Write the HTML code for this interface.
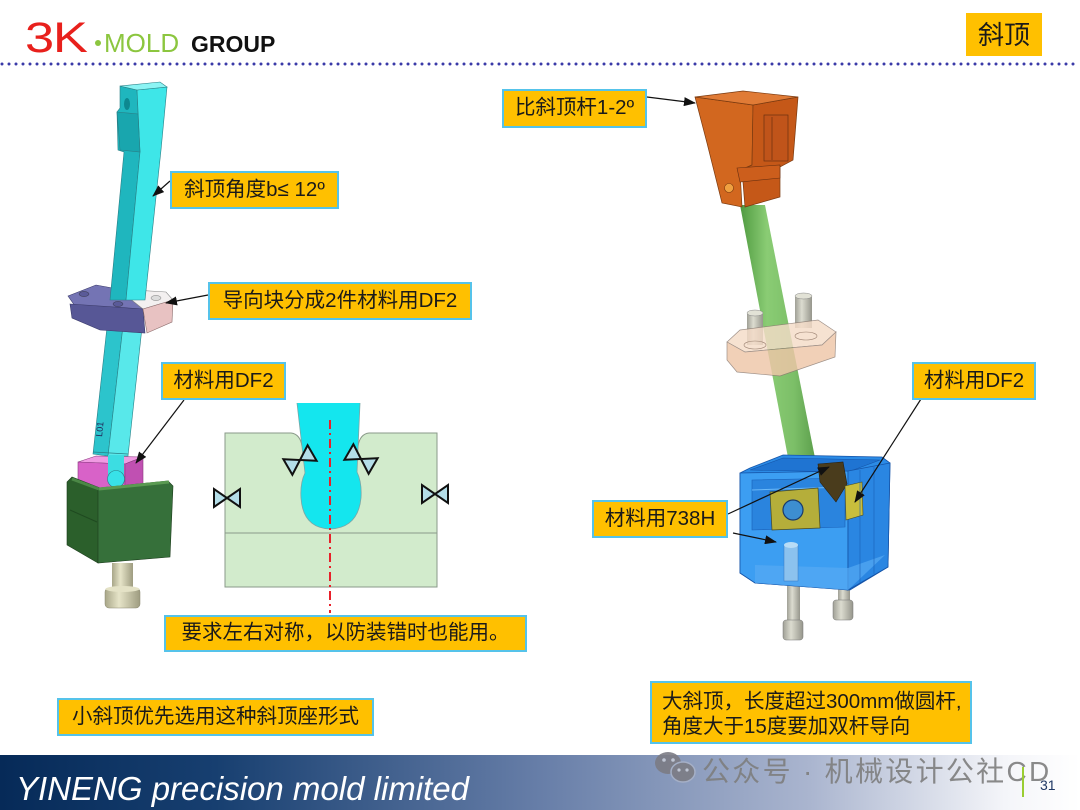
<!DOCTYPE html>
<html>
<head>
<meta charset="utf-8">
<style>
html,body{margin:0;padding:0;background:#fff;}
body{width:1080px;height:810px;position:relative;overflow:hidden;font-family:"Liberation Sans","Noto Sans CJK SC",sans-serif;}
svg{position:absolute;left:0;top:0;}
.lbl{position:absolute;background:#FFC000;border:2px solid #55c3ea;box-sizing:border-box;font-family:"Liberation Sans","Noto Sans CJK SC",sans-serif;font-size:20.5px;color:#1a1a1a;display:flex;align-items:center;justify-content:center;white-space:nowrap;line-height:1;}
</style>
</head>
<body>
<svg width="1080" height="810" viewBox="0 0 1080 810" xmlns="http://www.w3.org/2000/svg">
<defs>
  <marker id="ah" markerWidth="12" markerHeight="9" refX="11" refY="4.5" orient="auto" markerUnits="userSpaceOnUse">
    <path d="M0,0 L12,4.5 L0,9 Z" fill="#111"/>
  </marker>
  <linearGradient id="foot" x1="0" y1="0" x2="1" y2="0">
    <stop offset="0" stop-color="#062a58"/>
    <stop offset="0.2" stop-color="#173f70"/>
    <stop offset="0.5" stop-color="#677ea8"/>
    <stop offset="0.75" stop-color="#aab5cf"/>
    <stop offset="0.93" stop-color="#f4f5f9"/>
    <stop offset="1" stop-color="#ffffff"/>
  </linearGradient>
  <linearGradient id="grod" x1="0" y1="0" x2="1" y2="0">
    <stop offset="0" stop-color="#4f9a40"/>
    <stop offset="0.35" stop-color="#8acc74"/>
    <stop offset="0.7" stop-color="#7cbf68"/>
    <stop offset="1" stop-color="#5a9d4a"/>
  </linearGradient>
  <linearGradient id="scr" x1="0" y1="0" x2="1" y2="0">
    <stop offset="0" stop-color="#a8a688"/>
    <stop offset="0.4" stop-color="#e6e4c8"/>
    <stop offset="1" stop-color="#9e9c80"/>
  </linearGradient>
  <linearGradient id="scr2" x1="0" y1="0" x2="1" y2="0">
    <stop offset="0" stop-color="#a0a096"/>
    <stop offset="0.4" stop-color="#dcdcd0"/>
    <stop offset="1" stop-color="#96968c"/>
  </linearGradient>
</defs>

<!-- Header logo -->
<text x="25" y="52" font-family="Liberation Sans, sans-serif" font-size="43" fill="#e8201c" transform="translate(25 0) scale(1.22 1) translate(-25 0)" style="letter-spacing:-1px">3K</text>
<circle cx="98" cy="43" r="3" fill="#8cc63f"/>
<text x="104" y="52" font-family="Liberation Sans, sans-serif" font-size="26" fill="#8cc63f">MOLD</text>
<text x="191" y="52" font-family="Liberation Sans, sans-serif" font-size="23" font-weight="bold" fill="#111">GROUP</text>
<line x1="2" y1="64" x2="1080" y2="64" stroke="#3a3aa8" stroke-width="3" stroke-dasharray="0 7" stroke-linecap="round"/>

<!-- ===== LEFT PART ===== -->
<polygon points="78,462 96,456 143,457 125,464" fill="#f09ae2" stroke="#8a3a80" stroke-width="0.6"/>
<polygon points="78,462 125,464 125,522 78,520" fill="#d862c8" stroke="#8a3a80" stroke-width="0.6"/>
<polygon points="125,464 143,457 143,500 125,506" fill="#c050b2" stroke="#8a3a80" stroke-width="0.6"/>
<polygon points="110,300 126,300 108,456 93,454" fill="#2cc4cc" stroke="#2a7f86" stroke-width="0.6"/>
<polygon points="126,300 145,300 128,456 108,456" fill="#58e8ea" stroke="#2a7f86" stroke-width="0.6"/>
<line x1="93" y1="452" x2="128" y2="454" stroke="#2a7f86" stroke-width="0.8"/>
<rect x="108" y="455" width="16" height="22" fill="#3cdde2"/>
<circle cx="116" cy="479" r="8.5" fill="#38e2e8" stroke="#2a7f86" stroke-width="0.6"/>
<text x="0" y="0" font-family="Liberation Sans, sans-serif" font-size="9" fill="#225" transform="translate(102 437) rotate(-84)">L01</text>
<polygon points="67,482 72,477 100,488 98,563 67,545" fill="#2b5f2b" stroke="#1d3d1d" stroke-width="0.6"/>
<polygon points="98,488 168,481 173,486 170,557 98,563" fill="#36703a" stroke="#1d3d1d" stroke-width="0.6"/>
<line x1="99" y1="489" x2="169" y2="482" stroke="#5a9a52" stroke-width="3"/>
<line x1="72" y1="479" x2="99" y2="489" stroke="#4b8846" stroke-width="3"/>
<line x1="70" y1="510" x2="97" y2="522" stroke="#1f4a20" stroke-width="1"/>
<rect x="112" y="563" width="21" height="28" fill="url(#scr)"/>
<rect x="105" y="588" width="35" height="20" rx="4" fill="url(#scr)" stroke="#8a8870" stroke-width="0.5"/>
<ellipse cx="122.5" cy="589" rx="17" ry="3" fill="#e4e2c6"/>
<polygon points="68,296 96,285 118,289 143,309 75,306" fill="#7474b4" stroke="#3a3a6a" stroke-width="0.6"/>
<polygon points="118,289 166,292 173,300 143,309" fill="#f3f0f0" stroke="#8a8a8a" stroke-width="0.6"/>
<polygon points="70,304 143,309 145,333 100,330 72,318" fill="#575796" stroke="#3a3a6a" stroke-width="0.6"/>
<polygon points="143,309 173,300 172,322 147,333" fill="#e8c2c2" stroke="#8a6a6a" stroke-width="0.6"/>
<ellipse cx="84" cy="294" rx="5" ry="2.5" fill="#5a5a98" stroke="#334" stroke-width="0.5"/>
<ellipse cx="118" cy="304" rx="5" ry="2.5" fill="#5a5a98" stroke="#334" stroke-width="0.5"/>
<ellipse cx="156" cy="298" rx="5" ry="2.5" fill="#ddd" stroke="#777" stroke-width="0.5"/>
<polygon points="120,86 137,90 140,152 126,300 110,300 124,152 118,150 117,112 120,108" fill="#1fb6be" stroke="#2a7f86" stroke-width="0.6"/>
<polygon points="137,90 167,87 161,150 145,300 126,300 140,152" fill="#3ee6e8" stroke="#2a7f86" stroke-width="0.6"/>
<polygon points="120,86 160,82 167,87 137,90" fill="#8cf4f4" stroke="#2a7f86" stroke-width="0.6"/>
<polygon points="117,112 138,114 140,152 120,150" fill="#19a6ae" stroke="#2a7f86" stroke-width="0.6"/>
<ellipse cx="127" cy="104" rx="3" ry="6" fill="#0d8890"/>

<!-- ===== MIDDLE SCHEMATIC ===== -->
<path d="M225,433 H291 Q300,434 302,446 L358,446 Q360,434 369,433 H437 V587 H225 Z" fill="#d2ebcc" stroke="#8a9a8a" stroke-width="1"/>
<line x1="225" y1="533" x2="437" y2="533" stroke="#8a9a8a" stroke-width="1"/>
<path d="M297,403 H360 L357,472 Q362,482 361,498 Q358,528 330,529 Q303,528 301,498 Q300,483 305,473 Z" fill="#14e6ee"/>
<path d="M297,403 L305,473 Q300,483 301,498 Q303,528 330,529 Q358,528 361,498 Q362,482 357,472 L360,403" fill="none" stroke="#7aa6a6" stroke-width="0.8"/>
<line x1="330" y1="420" x2="330" y2="613" stroke="#e8202a" stroke-width="2" stroke-dasharray="9 4 2 4"/>
<g fill="#b4dee8" stroke="#111" stroke-width="2" stroke-linejoin="miter">
  <g transform="translate(227 498)"><polygon points="-13,-9 -13,9 0,0"/><polygon points="13,-9 13,9 0,0"/></g>
  <g transform="translate(435 494)"><polygon points="-13,-9 -13,9 0,0"/><polygon points="13,-9 13,9 0,0"/></g>
  <g transform="translate(300 460) rotate(-30)"><polygon points="-14,-9 -14,9 0,0"/><polygon points="14,-9 14,9 0,0"/></g>
  <g transform="translate(361 459) rotate(30)"><polygon points="-14,-9 -14,9 0,0"/><polygon points="14,-9 14,9 0,0"/></g>
</g>

<!-- ===== RIGHT PART ===== -->
<polygon points="740,205 765,205 817,468 790,468" fill="url(#grod)"/>
<polygon points="695,97 753,105 752,165 740,170 742,207 722,203 707,143" fill="#d2671f" stroke="#7a3a10" stroke-width="0.7"/>
<polygon points="753,105 798,97 797,110 793,160 780,167 780,197 745,207 742,170 752,165" fill="#c55818" stroke="#7a3a10" stroke-width="0.7"/>
<polygon points="695,97 743,91 798,97 753,105" fill="#e07b36" stroke="#7a3a10" stroke-width="0.7"/>
<rect x="764" y="115" width="24" height="46" fill="#c0541a" stroke="#6a3010" stroke-width="0.7"/>
<line x1="772" y1="117" x2="772" y2="160" stroke="#6a3010" stroke-width="0.7"/>
<polygon points="737,168 780,165 780,178 740,182" fill="#cc5e1c" stroke="#6a3010" stroke-width="0.6"/>
<circle cx="729" cy="188" r="4.5" fill="#f0a040" stroke="#7a3a10" stroke-width="0.6"/>
<rect x="747" y="313" width="16" height="32" fill="url(#scr2)"/>
<ellipse cx="755" cy="313" rx="8" ry="3" fill="#e2e2d6" stroke="#888" stroke-width="0.5"/>
<rect x="795" y="296" width="17" height="32" fill="url(#scr2)"/>
<ellipse cx="803.5" cy="296" rx="8.5" ry="3" fill="#e2e2d6" stroke="#888" stroke-width="0.5"/>
<g opacity="0.82">
<polygon points="727,342 740,330 818,320 836,332 822,345 745,352" fill="#f5dcc8" stroke="#8a7a70" stroke-width="0.7"/>
<polygon points="727,342 745,352 822,345 836,332 835,357 780,376 737,372 727,360" fill="#efc6a8" stroke="#8a7a70" stroke-width="0.7"/>
</g>
<ellipse cx="755" cy="345" rx="11" ry="4" fill="none" stroke="#9a8070" stroke-width="0.6"/>
<ellipse cx="806" cy="336" rx="11" ry="4" fill="none" stroke="#9a8070" stroke-width="0.6"/>
<rect x="787" y="575" width="13" height="50" fill="url(#scr2)"/>
<rect x="783" y="620" width="20" height="20" rx="3" fill="url(#scr2)" stroke="#777" stroke-width="0.5"/>
<rect x="838" y="578" width="12" height="28" fill="url(#scr2)"/>
<rect x="833" y="600" width="20" height="20" rx="3" fill="url(#scr2)" stroke="#777" stroke-width="0.5"/>
<polygon points="783,455 882,457 890,463 888,567 850,590 755,583 740,573 740,473 750,468" fill="#2b8be6" stroke="#1554a8" stroke-width="0.8"/>
<polygon points="750,470 783,458 880,460 848,472" fill="#1f74d2" stroke="#1554a8" stroke-width="0.6"/>
<polygon points="740,473 848,471 848,590 755,583 740,573" fill="#3c9ef2" stroke="#1554a8" stroke-width="0.8"/>
<polygon points="848,471 890,463 888,567 848,590" fill="#2a86e2" stroke="#1554a8" stroke-width="0.8"/>
<polygon points="752,480 845,478 845,527 752,530" fill="#2a84de" stroke="#1a60b8" stroke-width="0.6"/>
<line x1="752" y1="490" x2="845" y2="487" stroke="#6ab8f8" stroke-width="1"/>
<polygon points="770,492 818,488 820,528 772,530" fill="#b5ae3a" stroke="#4a4a20" stroke-width="0.7"/>
<circle cx="793" cy="510" r="10" fill="#3d8ed0" stroke="#1a3a6a" stroke-width="1.2"/>
<polygon points="818,464 843,462 847,484 836,502 820,482" fill="#4a3c1c" stroke="#2a2010" stroke-width="0.6"/>
<polygon points="845,486 862,482 863,515 846,520" fill="#c8be3c" stroke="#4a4a20" stroke-width="0.6"/>
<polygon points="755,565 848,568 885,555 848,590 755,583" fill="#55aaf4" opacity="0.7"/>
<rect x="784" y="545" width="14" height="36" fill="#8cc2ee" stroke="#3a78c0" stroke-width="0.5"/>
<ellipse cx="791" cy="545" rx="7" ry="3" fill="#b8dcf6"/>
<line x1="860" y1="470" x2="860" y2="583" stroke="#1a62b8" stroke-width="0.6"/>
<line x1="874" y1="467" x2="874" y2="574" stroke="#1a62b8" stroke-width="0.6"/>

<!-- ===== ARROWS ===== -->
<g stroke="#111" stroke-width="1.2" fill="none" marker-end="url(#ah)">
  <line x1="647" y1="97" x2="695" y2="103"/>
  <line x1="170" y1="181" x2="153" y2="196"/>
  <line x1="208" y1="295" x2="166" y2="303"/>
  <line x1="184" y1="400" x2="136" y2="463"/>
  <line x1="921" y1="399" x2="855" y2="502"/>
  <line x1="728" y1="514" x2="829" y2="467"/>
  <line x1="733" y1="533" x2="776" y2="542"/>
</g>

<!-- ===== FOOTER ===== -->
<rect x="0" y="755" width="1080" height="55" fill="url(#foot)"/>
<text x="16" y="800" font-family="Liberation Sans, sans-serif" font-style="italic" font-size="33" fill="#ffffff">YINENG precision mold limited</text>
<g fill="#7c7c84" opacity="0.9">
  <ellipse cx="668" cy="763" rx="13" ry="11"/>
  <ellipse cx="683" cy="772" rx="12" ry="10" stroke="#a8b2c8" stroke-width="1.5"/>
</g>
<circle cx="664" cy="760" r="1.8" fill="#c0c6d4"/>
<circle cx="673" cy="760" r="1.8" fill="#c0c6d4"/>
<circle cx="679" cy="770" r="1.6" fill="#c0c6d4"/>
<circle cx="687" cy="770" r="1.6" fill="#c0c6d4"/>
<text x="702" y="781" font-family="Liberation Sans, Noto Sans CJK SC, sans-serif" font-size="28" fill="#7e7e7e" opacity="0.9" letter-spacing="2.3">公众号 · 机械设计公社CD</text>
<line x1="1023" y1="767" x2="1023" y2="797" stroke="#9acd32" stroke-width="2"/>
<text x="1040" y="790" font-family="Liberation Sans, sans-serif" font-size="14" fill="#1f3864">31</text>
</svg>

<div class="lbl" style="left:966px;top:13px;width:76px;height:43px;border:none;font-size:26px;">斜顶</div>
<div class="lbl" style="left:502px;top:89px;width:145px;height:39px;">比斜顶杆1-2º</div>
<div class="lbl" style="left:170px;top:171px;width:169px;height:38px;">斜顶角度b≤ 12º</div>
<div class="lbl" style="left:208px;top:282px;width:264px;height:38px;">导向块分成2件材料用DF2</div>
<div class="lbl" style="left:161px;top:362px;width:125px;height:38px;">材料用DF2</div>
<div class="lbl" style="left:912px;top:362px;width:124px;height:38px;">材料用DF2</div>
<div class="lbl" style="left:592px;top:500px;width:136px;height:38px;">材料用738H</div>
<div class="lbl" style="left:164px;top:615px;width:363px;height:37px;">要求左右对称，以防装错时也能用。</div>
<div class="lbl" style="left:57px;top:698px;width:317px;height:38px;">小斜顶优先选用这种斜顶座形式</div>
<div class="lbl" style="left:650px;top:681px;width:322px;height:63px;justify-content:flex-start;padding-left:10px;line-height:25px;display:block;padding-top:6px;">大斜顶，长度超过300mm做圆杆,<br>角度大于15度要加双杆导向</div>
</body>
</html>
